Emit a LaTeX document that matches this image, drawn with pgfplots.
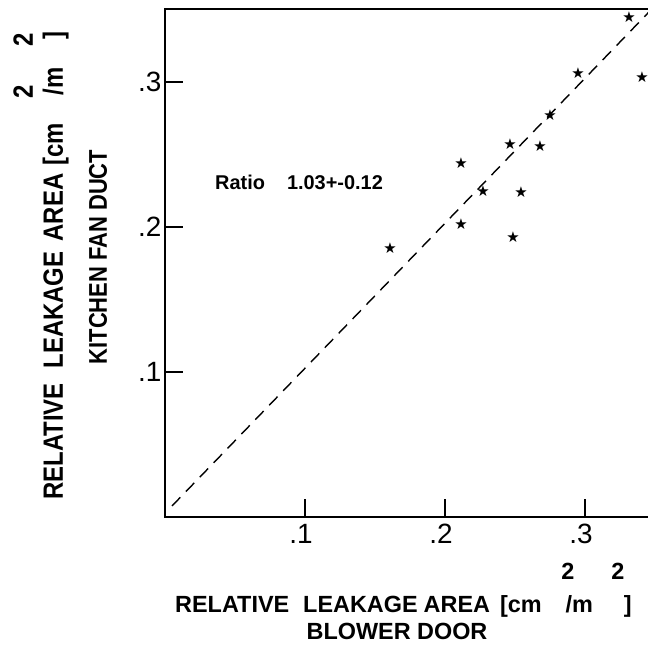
\documentclass[border=0pt]{standalone}
\usepackage{fontspec}
\setmainfont{Liberation Sans}
\newfontfamily\symfont{DejaVu Sans}
\usepackage{pgfplots}
\pgfplotsset{compat=1.18}
\newcommand{\xlab}{\fontsize{23.5}{25}\selectfont\bfseries}
\newcommand{\ylab}{\fontsize{28}{30}\selectfont\bfseries}
\newcommand{\ylabb}{\fontsize{25.7}{28}\selectfont\bfseries}
\begin{document}
\begin{tikzpicture}[x=1bp,y=1bp]
\begin{axis}[name=ax, at={(0,0)}, anchor=south west,
  scale only axis, width=488bp, height=508bp,
  xmin=0, xmax=0.348571, ymin=0, ymax=0.350345,
  xtick={0.1,0.2,0.3}, ytick={0.1,0.2,0.3},
  xticklabels={\textnormal{.1},\textnormal{.2},\textnormal{.3}},
  yticklabels={\textnormal{.1},\textnormal{.2},\textnormal{.3}},
  xtick pos=left, ytick pos=left,
  tick align=inside, major tick length=18bp,
  every tick/.style={line width=1.6bp, black},
  axis line style={line width=1.6bp},
  ticklabel style={font=\fontsize{28}{30}\selectfont},
  /pgf/number format/assume math mode=true,
  xticklabel style={xshift=-4bp, yshift=-4bp},
  yticklabel style={xshift=0bp},
]
\addplot[black, line width=1.4bp, dash pattern=on 12bp off 8bp]
  coordinates {(0.005,0.0076) (0.348,0.3506)};
\addplot[only marks, mark=text, text mark={\fontsize{15}{15}\selectfont\symfont ★}]
  coordinates {
  (0.3314,0.3448) (0.2950,0.3062) (0.3407,0.3034) (0.2750,0.2772)
  (0.2464,0.2572) (0.2679,0.2559) (0.2114,0.2441) (0.2271,0.2248)
  (0.2543,0.2241) (0.2114,0.2021) (0.2486,0.1931) (0.1607,0.1855)
  };
\end{axis}
% x axis label
\node[font=\xlab, anchor=base west, inner sep=0pt] at (10,-95)
  {RELATIVE\hspace{14bp}LEAKAGE\hspace{6bp}AREA\hspace{10bp}[cm\hspace{24bp}/m\hspace{31bp}]};
\node[font=\xlab, anchor=base, inner sep=0pt] at (403,-63) {2};
\node[font=\xlab, anchor=base, inner sep=0pt] at (453,-63) {2};
\node[font=\xlab, anchor=base, inner sep=0pt] at (232,-122) {BLOWER DOOR};
% y axis label
\node[font=\ylab, anchor=base west, inner sep=0pt, rotate=90] at (-102,17)
  {\scalebox{0.857}[1]{RELATIVE\hspace{17.5bp}LEAKAGE\hspace{11.7bp}AREA\hspace{9.3bp}[cm\hspace{32.7bp}/m\hspace{32.7bp}]}};
\node[font=\ylab, anchor=base, inner sep=0pt, rotate=90] at (-132,477) {\scalebox{0.857}[1]{2}};
\node[font=\ylab, anchor=base, inner sep=0pt, rotate=90] at (-132,425) {\scalebox{0.857}[1]{2}};
\node[font=\ylabb, anchor=base, inner sep=0pt, rotate=90] at (-58,260)
  {\scalebox{0.857}[1]{KITCHEN FAN DUCT}};
% annotation
\node[font=\fontsize{20}{22}\selectfont\bfseries, anchor=base west, inner sep=0pt] at (50,327)
  {Ratio\hspace{22bp}1.03+-0.12};
\pgfresetboundingbox
\path (-165,-128) rectangle (483,517);
\end{tikzpicture}
\end{document}
